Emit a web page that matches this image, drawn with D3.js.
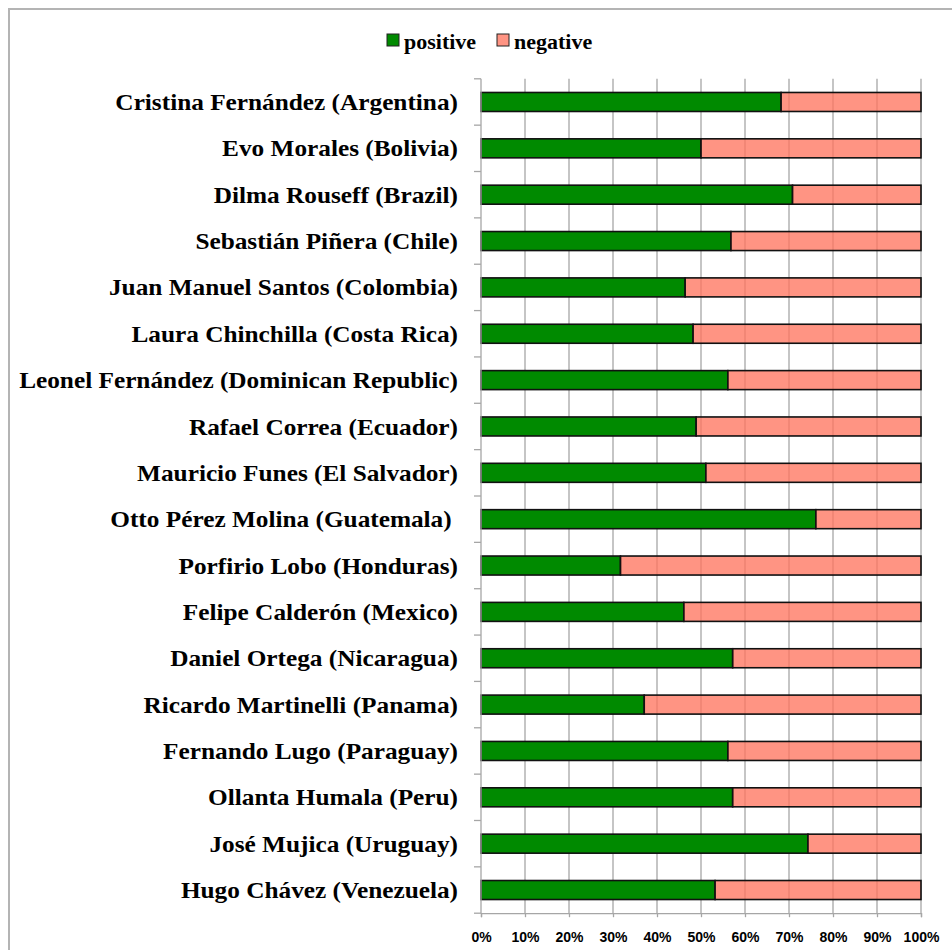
<!DOCTYPE html>
<html><head><meta charset="utf-8">
<script src="https://cdn.jsdelivr.net/npm/d3@7"></script>
<style>body{margin:0;background:#fff}svg{display:block}</style>
</head><body>
<script>
const categories = [
  "Cristina Fernández (Argentina)",
  "Evo Morales (Bolivia)",
  "Dilma Rouseff (Brazil)",
  "Sebastián Piñera (Chile)",
  "Juan Manuel Santos (Colombia)",
  "Laura Chinchilla (Costa Rica)",
  "Leonel Fernández (Dominican Republic)",
  "Rafael Correa (Ecuador)",
  "Mauricio Funes (El Salvador)",
  "Otto Pérez Molina (Guatemala) ",
  "Porfirio Lobo (Honduras)",
  "Felipe Calderón (Mexico)",
  "Daniel Ortega (Nicaragua)",
  "Ricardo Martinelli (Panama)",
  "Fernando Lugo (Paraguay)",
  "Ollanta Humala (Peru)",
  "José Mujica (Uruguay)",
  "Hugo Chávez (Venezuela)"
];
const positive = [68.2, 50.0, 70.8, 56.8, 46.4, 48.2, 56.1, 48.9, 51.1, 76.1, 31.7, 46.1, 57.2, 37.1, 56.1, 57.2, 74.3, 53.2];
const negative = positive.map(v => 100 - v);
const seriesNames = ["positive", "negative"];
const tickValues = [0, 10, 20, 30, 40, 50, 60, 70, 80, 90, 100];

const W = 952, H = 950;
const svg = d3.select("body").append("svg").attr("width", W).attr("height", H);

// outer frame
svg.append("rect").attr("x", 9).attr("y", 9).attr("width", 1000).attr("height", 1000)
  .attr("fill", "none").attr("stroke", "#b4b4b4").attr("stroke-width", 2);

const x = d3.scaleLinear().domain([0, 100]).range([481, 921]);
const y = d3.scaleBand().domain(categories).range([78.8, 913.2]).paddingInner(0.59).paddingOuter(0.295);

// gridlines
svg.append("g").selectAll("line").data(tickValues.slice(1)).join("line")
  .attr("x1", d => x(d)).attr("x2", d => x(d))
  .attr("y1", 78.8).attr("y2", 913.2)
  .attr("stroke", "#a6a6a6").attr("stroke-width", 1.3);

const colors = {positive: "#008a00", negative: "#ff7660"};
const rows = categories.map((c, i) => ({c, positive: positive[i], negative: negative[i]}));
const stacked = d3.stack().keys(seriesNames)(rows);

svg.append("g").selectAll("g").data(stacked).join("g")
  .attr("fill", d => colors[d.key])
  .attr("fill-opacity", d => d.key === "negative" ? 0.78 : 1)
  .selectAll("rect").data(d => d).join("rect")
  .attr("x", d => x(d[0])).attr("width", d => x(d[1]) - x(d[0]))
  .attr("y", d => y(d.data.c)).attr("height", y.bandwidth())
  .attr("stroke", "#111").attr("stroke-width", 1.6);

// y axis line and ticks
const step = y.step();
svg.append("line").attr("x1", 481).attr("x2", 481).attr("y1", 78.8).attr("y2", 913.2)
  .attr("stroke", "#a6a6a6").attr("stroke-width", 1.3);
svg.append("g").selectAll("line").data(d3.range(categories.length + 1)).join("line")
  .attr("x1", 474).attr("x2", 481)
  .attr("y1", i => 78.8 + i * step).attr("y2", i => 78.8 + i * step)
  .attr("stroke", "#a6a6a6").attr("stroke-width", 1.3);

// x axis
const xAxis = svg.append("g").attr("transform", "translate(0,913.2)")
  .call(d3.axisBottom(x).tickValues(tickValues).tickFormat(d => d + "%").tickSize(4).tickPadding(15));
xAxis.select(".domain").attr("stroke", "#a6a6a6").attr("stroke-width", 1.3);
xAxis.selectAll(".tick line").attr("stroke", "#a6a6a6").attr("stroke-width", 1.3);
xAxis.selectAll(".tick text").attr("fill", "#000")
  .style("font-family", "'Liberation Sans', Arial, sans-serif").style("font-weight", "bold").style("font-size", "14px");

// y labels
svg.append("g").selectAll("text").data(categories).join("text")
  .attr("transform", d => `translate(458,${y(d) + y.bandwidth() / 2}) scale(1.1,1)`)
  .attr("dy", "0.35em").attr("text-anchor", "end")
  .style("white-space", "pre")
  .style("font-family", "'Liberation Serif', 'Times New Roman', serif")
  .style("font-weight", "bold").style("font-size", "23px")
  .text(d => d);

// legend
const legend = [{k: "positive", x: 387}, {k: "negative", x: 497}];
const lg = svg.append("g").selectAll("g").data(legend).join("g")
  .attr("transform", d => `translate(${d.x},34)`);
lg.append("rect").attr("width", 12).attr("height", 12)
  .attr("fill", d => colors[d.k]).attr("fill-opacity", d => d.k === "negative" ? 0.78 : 1)
  .attr("stroke", "#222").attr("stroke-width", 1);
lg.append("text").attr("transform", "translate(17,15) scale(1.1,1)")
  .style("font-family", "'Liberation Serif', 'Times New Roman', serif")
  .style("font-weight", "bold").style("font-size", "20px")
  .text(d => d.k);
</script>
</body></html>
